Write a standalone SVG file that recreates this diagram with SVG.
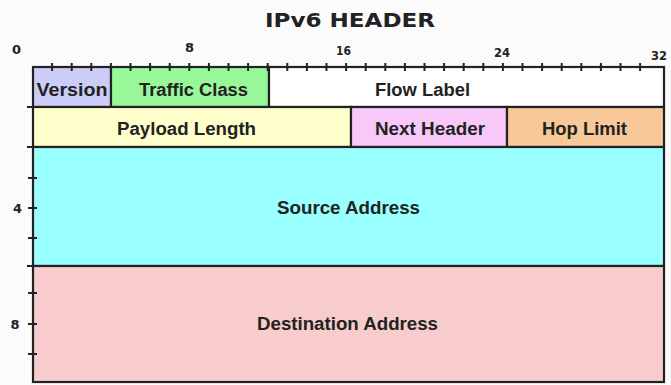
<svg xmlns="http://www.w3.org/2000/svg" width="671" height="385" viewBox="0 0 671 385">
  <style>
    .field { stroke: #222; stroke-width: 2.2; }
    .label { font-family: "Liberation Sans", Arial, sans-serif; font-weight: bold; font-size: 18px; fill: #222; text-anchor: middle; }
    .axis { font-family: "DejaVu Sans", Verdana, sans-serif; font-weight: bold; font-size: 13px; fill: #222; text-anchor: middle; }
    .title { font-family: "DejaVu Sans", Verdana, sans-serif; font-weight: bold; font-size: 19px; fill: #222; text-anchor: middle; }
    .tick { stroke: #222; stroke-width: 2; }
  </style>
  <rect width="671" height="385" fill="#fbfbfb"/>

  <text class="title" x="350" y="27" textLength="170" lengthAdjust="spacingAndGlyphs">IPv6 HEADER</text>

  <!-- bit scale -->
  <g id="bit-scale">
    <text class="axis" x="16.5" y="54">0</text>
    <text class="axis" x="189.5" y="52">8</text>
    <text class="axis" x="343.5" y="55" textLength="15" lengthAdjust="spacingAndGlyphs">16</text>
    <text class="axis" x="502" y="57" textLength="16" lengthAdjust="spacingAndGlyphs">24</text>
    <text class="axis" x="659" y="60" textLength="16" lengthAdjust="spacingAndGlyphs">32</text>
  </g>

  <!-- word scale -->
  <g id="word-scale">
    <text class="axis" x="17.5" y="213">4</text>
    <text class="axis" x="15" y="329">8</text>
  </g>

  <!-- fields -->
  <g id="version"><rect class="field" x="33" y="67" width="78" height="40" fill="#ccccf8"/><text class="label" x="72" y="96" textLength="71" lengthAdjust="spacingAndGlyphs">Version</text></g>
  <g id="traffic-class"><rect class="field" x="111" y="67" width="158" height="40" fill="#98f898"/><text class="label" x="193.5" y="96" textLength="109" lengthAdjust="spacingAndGlyphs">Traffic Class</text></g>
  <g id="flow-label"><rect class="field" x="269" y="67" width="395" height="40" fill="#ffffff"/><text class="label" x="422.5" y="96" textLength="95" lengthAdjust="spacingAndGlyphs">Flow Label</text></g>
  <g id="payload-length"><rect class="field" x="33" y="107" width="318" height="40" fill="#ffffcc"/><text class="label" x="186.5" y="135" textLength="139" lengthAdjust="spacingAndGlyphs">Payload Length</text></g>
  <g id="next-header"><rect class="field" x="351" y="107" width="156" height="40" fill="#f8c8f8"/><text class="label" x="430" y="135" textLength="110" lengthAdjust="spacingAndGlyphs">Next Header</text></g>
  <g id="hop-limit"><rect class="field" x="507" y="107" width="157" height="40" fill="#f8c898"/><text class="label" x="584.5" y="135" textLength="85" lengthAdjust="spacingAndGlyphs">Hop Limit</text></g>
  <g id="source-address"><rect class="field" x="33" y="147" width="631" height="119" fill="#99ffff"/><text class="label" x="348.5" y="214" textLength="143" lengthAdjust="spacingAndGlyphs">Source Address</text></g>
  <g id="destination-address"><rect class="field" x="33" y="266" width="631" height="116" fill="#f8cccc"/><text class="label" x="347.5" y="330" textLength="181" lengthAdjust="spacingAndGlyphs">Destination Address</text></g>

  <!-- tick marks -->
  <g id="ticks" class="tick">
    <path d="M52.1 63v8M71.7 63v8M91.3 63v8M110.9 63v8M130.5 63v8M150.1 63v8M169.7 63v8M189.3 63v8M208.9 63v8M228.5 63v8M248.1 63v8M267.7 63v8M287.3 63v8M306.9 63v8M326.5 63v8M346.1 63v8M365.7 63v8M385.3 63v8M404.9 63v8M424.5 63v8M444.1 63v8M463.7 63v8M483.3 63v8M502.9 63v8M522.5 63v8M542.1 63v8M561.7 63v8M581.3 63v8M600.9 63v8M620.5 63v8M640.1 63v8"/>
    <path d="M27 107h8M27 147h8M28 178h9M28 208h9M28 238h9M27 266h8M28 293h9M28 324h9M28 354h9"/>
  </g>
</svg>
